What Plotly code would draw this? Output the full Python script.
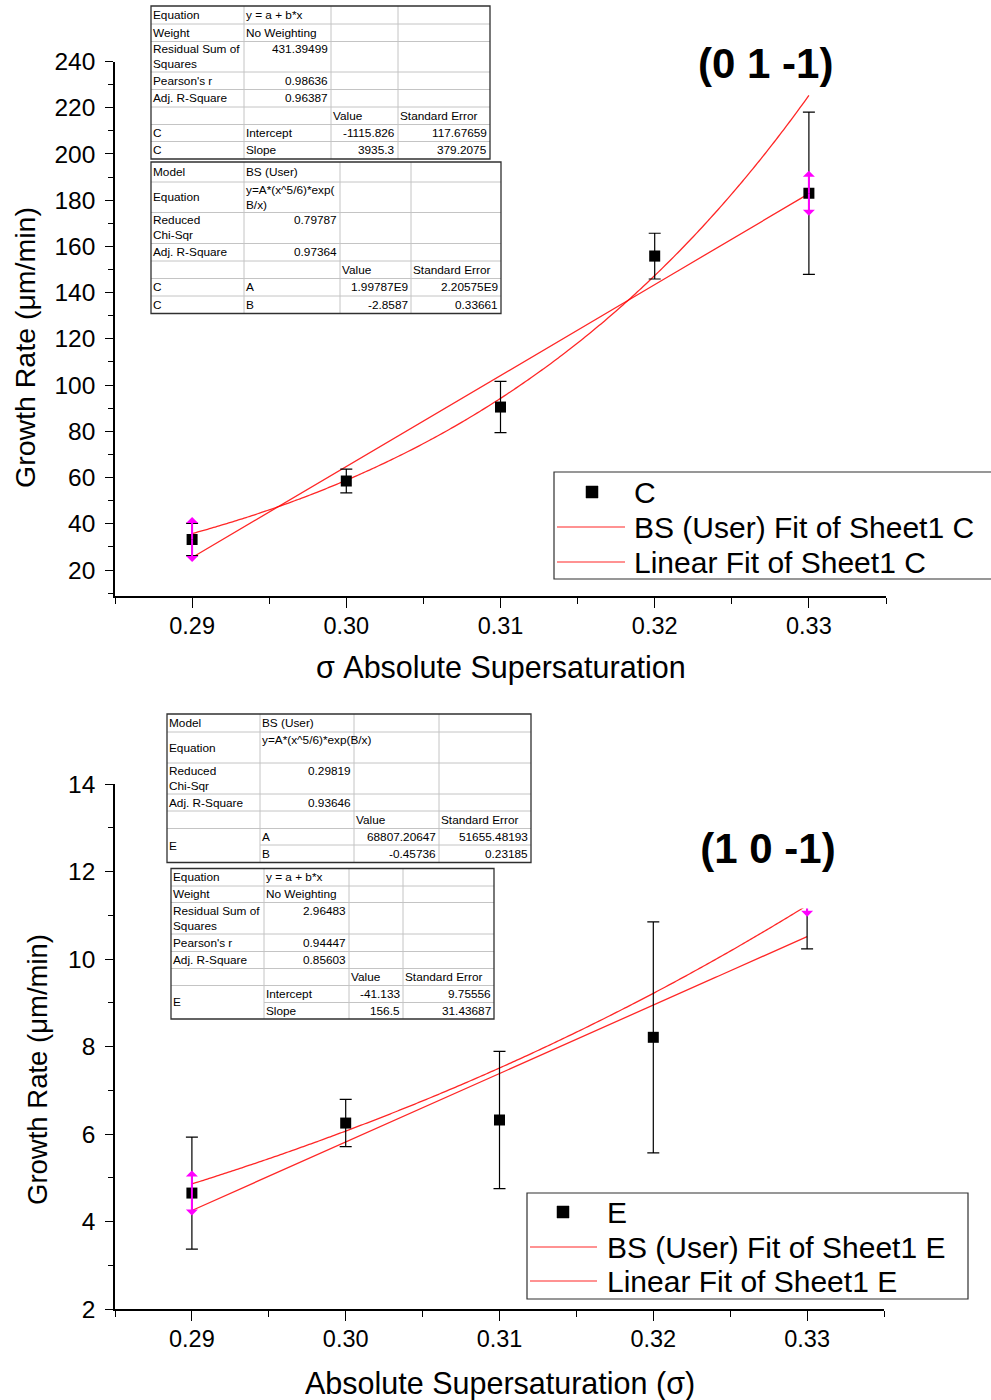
import numpy as np
import plotly.graph_objects as go

W, H = 991, 1400
FONT = "Liberation Sans, Arial, sans-serif"
GRID = "#c4c4c4"
BORDER = "#303030"
FIT_RED = "rgba(255,0,0,0.85)"

# ---- measured growth rates ----
sigma = [0.29, 0.30, 0.31, 0.32, 0.33]
rate_C = [33.2, 58.5, 90.5, 155.8, 183.0]
err_C = [7.0, 5.1, 11.1, 9.9, 35.1]
rate_E = [4.65, 6.25, 6.32, 8.21, 11.48]
err_E = [1.28, 0.54, 1.57, 2.64, 1.25]

# ---- fit results as reported by the fitting tool ----
C_lin = {"Intercept": ("-1115.826", "117.67659"), "Slope": ("3935.3", "379.2075"),
         "RSS": "431.39499", "r": "0.98636", "adjR2": "0.96387"}
C_bs = {"A": ("1.99787E9", "2.20575E9"), "B": ("-2.8587", "0.33661"),
        "chi2": "0.79787", "adjR2": "0.97364"}
E_lin = {"Intercept": ("-41.133", "9.75556"), "Slope": ("156.5", "31.43687"),
         "RSS": "2.96483", "r": "0.94447", "adjR2": "0.85603"}
E_bs = {"A": ("68807.20647", "51655.48193"), "B": ("-0.45736", "0.23185"),
        "chi2": "0.29819", "adjR2": "0.93646"}

x_ticks = [0.29, 0.30, 0.31, 0.32, 0.33]
x_tick_text = ["0.29", "0.30", "0.31", "0.32", "0.33"]


def bs_model(x, A, B):
    # y = A*(x^5/6)*exp(B/x)
    return A * (x ** 5 / 6.0) * np.exp(B / x)


def linear_model(x, a, b):
    return a + b * x


xfit = np.linspace(sigma[0], sigma[-1], 161)


def px_x(p):
    return p / W


def px_y(p):
    return 1 - p / H


fig = go.Figure()

panels = [
    ("x", "y", rate_C, err_C, C_lin, C_bs),
    ("x2", "y2", rate_E, err_E, E_lin, E_bs),
]
for xa, ya, rate, err, lin, bs in panels:
    A, B = float(bs["A"][0]), float(bs["B"][0])
    a, b = float(lin["Intercept"][0]), float(lin["Slope"][0])
    fig.add_trace(go.Scatter(x=xfit, y=bs_model(xfit, A, B), mode="lines",
                             line=dict(color=FIT_RED, width=1.3, shape="spline"),
                             xaxis=xa, yaxis=ya, showlegend=False, hoverinfo="skip"))
    fig.add_trace(go.Scatter(x=xfit, y=linear_model(xfit, a, b), mode="lines",
                             line=dict(color=FIT_RED, width=1.3),
                             xaxis=xa, yaxis=ya, showlegend=False, hoverinfo="skip"))
    fig.add_trace(go.Scatter(x=sigma, y=rate, mode="markers",
                             marker=dict(symbol="square", size=11, color="black"),
                             error_y=dict(type="data", array=err, visible=True,
                                          color="black", thickness=1.2, width=6),
                             xaxis=xa, yaxis=ya, showlegend=False))

shapes = []
annotations = []


def add_line(x0, y0, x1, y1, color, width):
    shapes.append(dict(type="line", xref="paper", yref="paper",
                       x0=px_x(x0), y0=px_y(y0), x1=px_x(x1), y1=px_y(y1),
                       line=dict(color=color, width=width)))


def add_rect(x0, y0, x1, y1, color, width, fill="rgba(0,0,0,0)"):
    shapes.append(dict(type="rect", xref="paper", yref="paper",
                       x0=px_x(x0), y0=px_y(y0), x1=px_x(x1), y1=px_y(y1),
                       line=dict(color=color, width=width), fillcolor=fill))


def add_text(x, y, text, xanchor, yanchor, size=11, **kw):
    annotations.append(dict(xref="paper", yref="paper", x=px_x(x), y=px_y(y),
                            text=text, showarrow=False, xanchor=xanchor,
                            yanchor=yanchor,
                            align="left" if xanchor == "left" else ("right" if xanchor == "right" else "center"),
                            font=dict(family=FONT, size=size, color="black"), **kw))


TABLE_FONT = 11.8


def draw_table(cols, rows, cells, merged=()):
    """cells: (row, col, text, halign, valign, rowspan); merged: (row, col) cells spanning two rows."""
    for i in range(1, len(rows) - 1):
        start = cols[0]
        for (r, c) in merged:
            if r == i - 1:
                start = cols[c + 1]
        add_line(start, rows[i], cols[-1], rows[i], GRID, 1)
    for j in range(1, len(cols) - 1):
        add_line(cols[j], rows[0], cols[j], rows[-1], GRID, 1)
    add_rect(cols[0], rows[0], cols[-1], rows[-1], BORDER, 1.3)
    for cell in cells:
        r, c, text, ha, va = cell[:5]
        span = cell[5] if len(cell) > 5 else 1
        if ha == "l":
            x, xa = cols[c] - 0.5, "left"
        else:
            x, xa = cols[c + 1] - 1.5, "right"
        if va == "m":
            y, yanc = (rows[r] + rows[r + span]) / 2, "middle"
        else:
            y, yanc = rows[r] - 1.0, "top"
        add_text(x, y, text, xa, yanc, size=TABLE_FONT, borderpad=1)


def linear_cells(lin, name, merged_name):
    cells = [
        (0, 0, "Equation", "l", "m"), (0, 1, "y = a + b*x", "l", "m"),
        (1, 0, "Weight", "l", "m"), (1, 1, "No Weighting", "l", "m"),
        (2, 0, "Residual Sum of<br>Squares", "l", "t"), (2, 1, lin["RSS"], "r", "t"),
        (3, 0, "Pearson's r", "l", "m"), (3, 1, lin["r"], "r", "m"),
        (4, 0, "Adj. R-Square", "l", "m"), (4, 1, lin["adjR2"], "r", "m"),
        (5, 2, "Value", "l", "m"), (5, 3, "Standard Error", "l", "m"),
        (6, 1, "Intercept", "l", "m"), (6, 2, lin["Intercept"][0], "r", "m"),
        (6, 3, lin["Intercept"][1], "r", "m"),
        (7, 1, "Slope", "l", "m"), (7, 2, lin["Slope"][0], "r", "m"),
        (7, 3, lin["Slope"][1], "r", "m"),
    ]
    if merged_name:
        cells.append((6, 0, name, "l", "m", 2))
    else:
        cells += [(6, 0, name, "l", "m"), (7, 0, name, "l", "m")]
    return cells


def bs_cells(bs, name, eq_text, merged_name):
    cells = [
        (0, 0, "Model", "l", "m"), (0, 1, "BS (User)", "l", "m"),
        (1, 0, "Equation", "l", "m"), (1, 1, eq_text, "l", "t"),
        (2, 0, "Reduced<br>Chi-Sqr", "l", "t"), (2, 1, bs["chi2"], "r", "t"),
        (3, 0, "Adj. R-Square", "l", "m"), (3, 1, bs["adjR2"], "r", "m"),
        (4, 2, "Value", "l", "m"), (4, 3, "Standard Error", "l", "m"),
        (5, 1, "A", "l", "m"), (5, 2, bs["A"][0], "r", "m"), (5, 3, bs["A"][1], "r", "m"),
        (6, 1, "B", "l", "m"), (6, 2, bs["B"][0], "r", "m"), (6, 3, bs["B"][1], "r", "m"),
    ]
    if merged_name:
        cells.append((5, 0, name, "l", "m", 2))
    else:
        cells += [(5, 0, name, "l", "m"), (6, 0, name, "l", "m")]
    return cells


# result tables, upper panel
draw_table([151, 244, 331, 398, 490],
           [6, 24, 41.5, 72, 89.5, 107, 124.5, 141.5, 159],
           linear_cells(C_lin, "C", False))
draw_table([151, 244, 340, 411, 501],
           [162, 182, 212.5, 243.5, 261, 278.5, 296, 313.5],
           bs_cells(C_bs, "C", "y=A*(x^5/6)*exp(<br>B/x)", False))
# result tables, lower panel
draw_table([167, 260, 354, 439, 531],
           [714, 732, 763, 794, 811, 828.5, 845, 862.5],
           bs_cells(E_bs, "E", "y=A*(x^5/6)*exp(B/x)", True), merged=[(5, 0)])
draw_table([171, 264, 349, 403, 494],
           [868.5, 886, 902.5, 934, 951.5, 968.5, 985.5, 1002.5, 1019],
           linear_cells(E_lin, "E", True), merged=[(6, 0)])

# data-range markers on the first and last fitted points
for xa, ya, rate in [("x", "y", rate_C), ("x2", "y2", rate_E)]:
    for i in (0, len(sigma) - 1):
        for off in (-24, 24):
            annotations.append(dict(x=sigma[i], y=rate[i], xref=xa, yref=ya,
                                    text="", showarrow=True, ax=0, ay=off,
                                    arrowside="start", arrowhead=2, arrowsize=2.2,
                                    arrowwidth=2, arrowcolor="#ff00ff",
                                    standoff=0, startstandoff=0))

# plane labels
annotations.append(dict(xref="paper", yref="paper", x=px_x(765), y=px_y(64),
                        text="(0 1 -1)", showarrow=False, xanchor="center", yanchor="middle",
                        font=dict(family=FONT, size=42, color="black", weight="bold")))
annotations.append(dict(xref="paper", yref="paper", x=px_x(768), y=px_y(823),
                        text="(1 0 -1)", showarrow=False, xanchor="center", yanchor="top",
                        width=150, height=82, valign="top", bgcolor="white",
                        font=dict(family=FONT, size=42, color="black", weight="bold")))

# axis titles
add_text(25, 348, "Growth Rate (μm/min)", "center", "middle", size=28.5, textangle=-90)
add_text(37, 1070, "Growth Rate (μm/min)", "center", "middle", size=27.5, textangle=-90)
add_text(501, 668, "σ Absolute Supersaturation", "center", "middle", size=30.5)
add_text(500, 1383, "Absolute Supersaturation (σ)", "center", "middle", size=30.5)

# legends
for (bx0, by0, bx1, by1, sq, tx, ly, lx0, lx1, name) in [
    (554, 472, 993, 579, (592, 492), 632, (527, 562), 557, 625, "C"),
    (527, 1193, 968, 1299, (563, 1212), 605, (1247, 1281), 530, 597, "E"),
]:
    add_rect(bx0, by0, bx1, by1, BORDER, 1.2, fill="white")
    add_rect(sq[0] - 6, sq[1] - 6, sq[0] + 6, sq[1] + 6, "black", 0.5, fill="black")
    add_text(tx, sq[1], name, "left", "middle", size=30)
    add_line(lx0, ly[0], lx1, ly[0], FIT_RED, 1.2)
    add_text(tx, ly[0], f"BS (User) Fit of Sheet1 {name}", "left", "middle", size=30)
    add_line(lx0, ly[1], lx1, ly[1], FIT_RED, 1.2)
    add_text(tx, ly[1], f"Linear Fit of Sheet1 {name}", "left", "middle", size=30)

axis_common = dict(showline=True, linecolor="black", linewidth=1.5, showgrid=False,
                   zeroline=False, ticks="outside", tickcolor="black", tickwidth=1.3,
                   mirror=False)

fig.update_layout(
    width=W, height=H,
    margin=dict(l=0, r=0, t=0, b=0, autoexpand=False),
    paper_bgcolor="white", plot_bgcolor="white",
    showlegend=False,
    xaxis=dict(domain=[px_x(115), px_x(886)], range=[0.285, 0.335], anchor="y",
               tickvals=x_ticks, ticktext=x_tick_text, ticklen=10, ticklabelstandoff=-2,
               minor=dict(ticks="outside", ticklen=6, dtick=0.005, tick0=0.285,
                          tickcolor="black", tickwidth=1.3),
               tickfont=dict(family=FONT, size=23.5, color="black"), **axis_common),
    yaxis=dict(domain=[px_y(596), px_y(61.5)], range=[8.75, 240], anchor="x",
               tick0=20, dtick=20, ticklen=8, ticklabelstandoff=5,
               minor=dict(ticks="outside", ticklen=5, dtick=10, tick0=0,
                          tickcolor="black", tickwidth=1.3),
               tickfont=dict(family=FONT, size=24.5, color="black"), **axis_common),
    xaxis2=dict(domain=[px_x(115), px_x(884)], range=[0.285, 0.335], anchor="y2",
                tickvals=x_ticks, ticktext=x_tick_text, ticklen=10, ticklabelstandoff=-2,
                minor=dict(ticks="outside", ticklen=6, dtick=0.005, tick0=0.285,
                           tickcolor="black", tickwidth=1.3),
                tickfont=dict(family=FONT, size=23.5, color="black"), **axis_common),
    yaxis2=dict(domain=[px_y(1309), px_y(784)], range=[2, 14], anchor="x2",
                tick0=2, dtick=2, ticklen=8, ticklabelstandoff=5,
                minor=dict(ticks="outside", ticklen=5, dtick=1, tick0=0,
                           tickcolor="black", tickwidth=1.3),
                tickfont=dict(family=FONT, size=24.5, color="black"), **axis_common),
    shapes=shapes,
    annotations=annotations,
)

fig.write_html("out.html")
